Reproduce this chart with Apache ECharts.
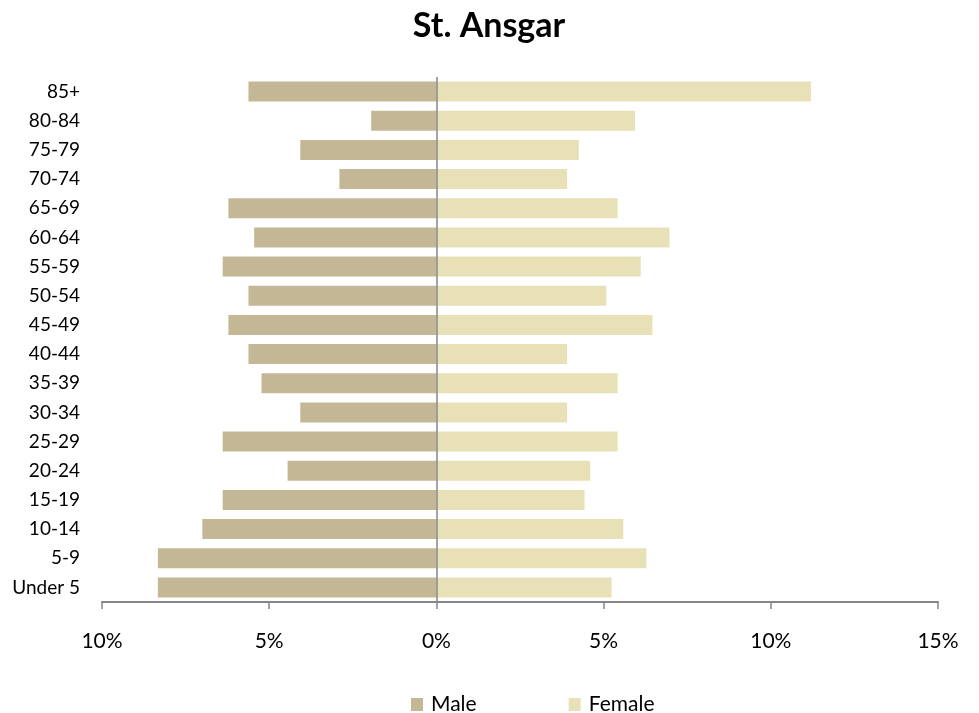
<!DOCTYPE html>
<html>
<head>
<meta charset="utf-8">
<script src="https://cdn.jsdelivr.net/npm/echarts@6/dist/echarts.min.js"></script>
<style>
  html, body { margin: 0; padding: 0; background: #fff; }
  #myChart { width: 979px; height: 713px; }
</style>
</head>
<body>
<div id="myChart"></div>
<script>
// age groups, bottom to top
var ageGroups = ["Under 5", "5-9", "10-14", "15-19", "20-24", "25-29", "30-34", "35-39", "40-44",
  "45-49", "50-54", "55-59", "60-64", "65-69", "70-74", "75-79", "80-84", "85+"];
// percent of population
var maleValues = [8.33, 8.33, 7.0, 6.39, 4.45, 6.39, 4.07, 5.23, 5.62,
  6.22, 5.62, 6.39, 5.45, 6.22, 2.90, 4.07, 1.95, 5.62];
var femaleValues = [5.24, 6.28, 5.59, 4.43, 4.6, 5.42, 3.91, 5.42, 3.91,
  6.46, 5.08, 6.11, 6.97, 5.42, 3.91, 4.26, 5.94, 11.2];
var xTicks = [-10, 15, 5]; // min, max, step

var font = "Lato";
var chart = echarts.init(document.getElementById("myChart"));
chart.setOption({
  animation: false,
  title: {
    text: "St. Ansgar",
    left: 484,
    textAlign: "center",
    top: 4,
    textStyle: { fontFamily: font, fontSize: 34, fontWeight: "bold", color: "#000" }
  },
  legend: {
    data: ["Male", "Female"],
    left: 406,
    top: 689,
    itemWidth: 12,
    itemHeight: 13,
    itemGap: 92,
    icon: "rect",
    textStyle: { fontFamily: font, fontSize: 21, color: "#000", padding: [0, 0, 0, 3] }
  },
  grid: { left: 102, right: 41, top: 77, bottom: 111, containLabel: false },
  xAxis: {
    type: "value",
    min: xTicks[0],
    max: xTicks[1],
    interval: xTicks[2],
    splitLine: { show: false },
    axisLine: { show: true, lineStyle: { color: "#868686", width: 2 } },
    axisTick: { show: true, length: 7, lineStyle: { color: "#868686", width: 1.5 } },
    axisLabel: {
      margin: 29,
      fontFamily: font,
      fontSize: 21,
      color: "#000",
      formatter: function (v) { return Math.abs(v) + "%"; }
    }
  },
  yAxis: {
    type: "category",
    data: ageGroups,
    axisLine: { show: false },
    axisTick: { show: false },
    axisLabel: { margin: 22, fontFamily: font, fontSize: 19, color: "#000" }
  },
  series: [
    {
      name: "Male",
      type: "bar",
      stack: "pop",
      barWidth: 20,
      itemStyle: { color: "#C4B796" },
      data: maleValues.map(function (v) { return -v; }),
      markLine: {
        silent: true,
        symbol: "none",
        label: { show: false },
        lineStyle: { color: "#868686", width: 1.5, type: "solid" },
        data: [{ xAxis: 0 }]
      }
    },
    {
      name: "Female",
      type: "bar",
      stack: "pop",
      barWidth: 20,
      itemStyle: { color: "#E8E1B7" },
      data: femaleValues
    }
  ]
});
</script>
</body>
</html>
